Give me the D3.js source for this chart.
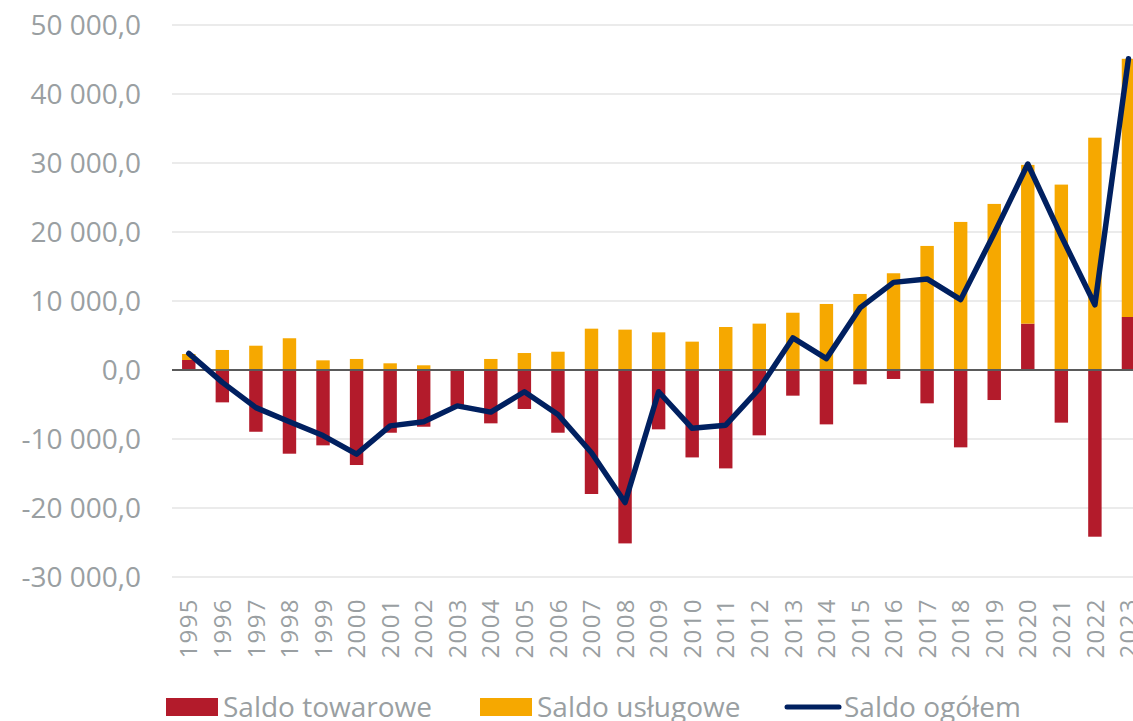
<!DOCTYPE html>
<html>
<head>
<meta charset="utf-8">
<script src="https://cdn.jsdelivr.net/npm/d3@7"></script>
<style>
  body { margin: 0; background: #fff; }
  svg { display: block; font-family: "Open Sans", sans-serif; }
</style>
</head>
<body>
<div id="chart"></div>
<script>
// lata
var years = [1995, 1996, 1997, 1998, 1999, 2000, 2001, 2002, 2003, 2004,
  2005, 2006, 2007, 2008, 2009, 2010, 2011, 2012, 2013, 2014,
  2015, 2016, 2017, 2018, 2019, 2020, 2021, 2022, 2023];

// saldo towarowe
var goods = [1450, -4690, -8950, -12130, -10920, -13770, -9090, -8220, -5300, -7730,
  -5650, -9090, -17970, -25130, -8600, -12670, -14260, -9470, -3720, -7880,
  -2080, -1300, -4830, -11210, -4350, 6720, -7630, -24160, 7680];

// saldo usługowe
var services = [870, 2900, 3520, 4600, 1400, 1600, 970, 680, 100, 1600,
  2460, 2650, 5990, 5850, 5460, 4110, 6230, 6720, 8300, 9570,
  11020, 14020, 17980, 21460, 24070, 23010, 26870, 33670, 37420];

// saldo ogółem
var total = [2400, -1800, -5450, -7500, -9500, -12200, -8100, -7500, -5200, -6100,
  -3150, -6450, -12000, -19200, -3150, -8450, -8000, -2700, 4650, 1650,
  9000, 12700, 13200, 10200, 19800, 29850, 19400, 9450, 45100];

var yTicks = [-30000, -20000, -10000, 0, 10000, 20000, 30000, 40000, 50000];

var legendItems = [
  { name: "Saldo towarowe", color: "#b31b2b", type: "rect" },
  { name: "Saldo usługowe", color: "#f6a800", type: "rect" },
  { name: "Saldo ogółem", color: "#002060", type: "line" }
];

var W = 1133, H = 721;
var plotLeft = 172, plotTop = 25, plotBottom = 577;
var step = 33.56;

var svg = d3.select("#chart")
  .append("svg")
  .attr("width", W)
  .attr("height", H);

var x = d3.scaleBand()
  .domain(years)
  .range([plotLeft, plotLeft + step * years.length])
  .paddingInner(0.6)
  .paddingOuter(0.3);

var y = d3.scaleLinear()
  .domain([-30000, 50000])
  .range([plotBottom, plotTop]);

var fmt = function (v) {
  var s = d3.format(",.1f")(v);
  return s.replace(/,/g, " ").replace(".", ",").replace("−", "-");
};

// siatka
svg.append("g")
  .selectAll("line")
  .data(yTicks.filter(function (d) { return d !== 0; }))
  .enter()
  .append("line")
  .attr("x1", plotLeft)
  .attr("x2", W)
  .attr("y1", function (d) { return y(d); })
  .attr("y2", function (d) { return y(d); })
  .attr("stroke", "#e4e4e4")
  .attr("stroke-width", 1.6);

// etykiety osi Y
svg.append("g")
  .selectAll("text")
  .data(yTicks)
  .enter()
  .append("text")
  .attr("x", 141)
  .attr("y", function (d) { return y(d); })
  .attr("dy", "0.36em")
  .attr("text-anchor", "end")
  .attr("fill", "#9a9fa2")
  .style("font-size", "28px")
  .text(fmt);

// słupki
var rows = years.map(function (yr, i) {
  return { year: yr, goods: goods[i], services: services[i] };
});

var stack = d3.stack()
  .keys(["goods", "services"])
  .offset(d3.stackOffsetDiverging);

var colors = { goods: "#b31b2b", services: "#f6a800" };

svg.append("g")
  .selectAll("g")
  .data(stack(rows))
  .enter()
  .append("g")
  .attr("fill", function (d) { return colors[d.key]; })
  .selectAll("rect")
  .data(function (d) { return d; })
  .enter()
  .append("rect")
  .attr("x", function (d) { return x(d.data.year); })
  .attr("width", x.bandwidth())
  .attr("y", function (d) { return y(Math.max(d[0], d[1])); })
  .attr("height", function (d) { return Math.abs(y(d[0]) - y(d[1])); });

// linia zera
svg.append("line")
  .attr("x1", plotLeft)
  .attr("x2", W)
  .attr("y1", y(0))
  .attr("y2", y(0))
  .attr("stroke", "#5a5a5a")
  .attr("stroke-width", 1.8);

// saldo ogółem
var line = d3.line()
  .x(function (d, i) { return x(years[i]) + x.bandwidth() / 2; })
  .y(function (d) { return y(d); });

svg.append("path")
  .datum(total)
  .attr("d", line)
  .attr("fill", "none")
  .attr("stroke", "#002060")
  .attr("stroke-width", 5.5)
  .attr("stroke-linejoin", "round")
  .attr("stroke-linecap", "round");

// etykiety osi X
svg.append("g")
  .selectAll("text")
  .data(years)
  .enter()
  .append("text")
  .attr("transform", function (d) {
    return "translate(" + (x(d) + x.bandwidth() / 2) + ",598) rotate(-90)";
  })
  .attr("dy", "0.36em")
  .attr("text-anchor", "end")
  .attr("fill", "#9a9fa2")
  .style("font-size", "24px")
  .style("letter-spacing", "1.4px")
  .text(function (d) { return d; });

// legenda
var legendX = [166, 480, 785];
var lg = svg.append("g")
  .selectAll("g")
  .data(legendItems)
  .enter()
  .append("g")
  .attr("transform", function (d, i) { return "translate(" + legendX[i] + ",0)"; });

lg.filter(function (d) { return d.type === "rect"; })
  .append("rect")
  .attr("x", 0)
  .attr("y", 698)
  .attr("width", 52)
  .attr("height", 18)
  .attr("fill", function (d) { return d.color; });

lg.filter(function (d) { return d.type === "line"; })
  .append("line")
  .attr("x1", 2)
  .attr("x2", 54)
  .attr("y1", 707)
  .attr("y2", 707)
  .attr("stroke", function (d) { return d.color; })
  .attr("stroke-width", 5)
  .attr("stroke-linecap", "round");

lg.append("text")
  .attr("x", function (d) { return d.type === "line" ? 59 : 57; })
  .attr("y", 717)
  .attr("fill", "#9a9fa2")
  .style("font-size", "28px")
  .text(function (d) { return d.name; });
</script>
</body>
</html>
